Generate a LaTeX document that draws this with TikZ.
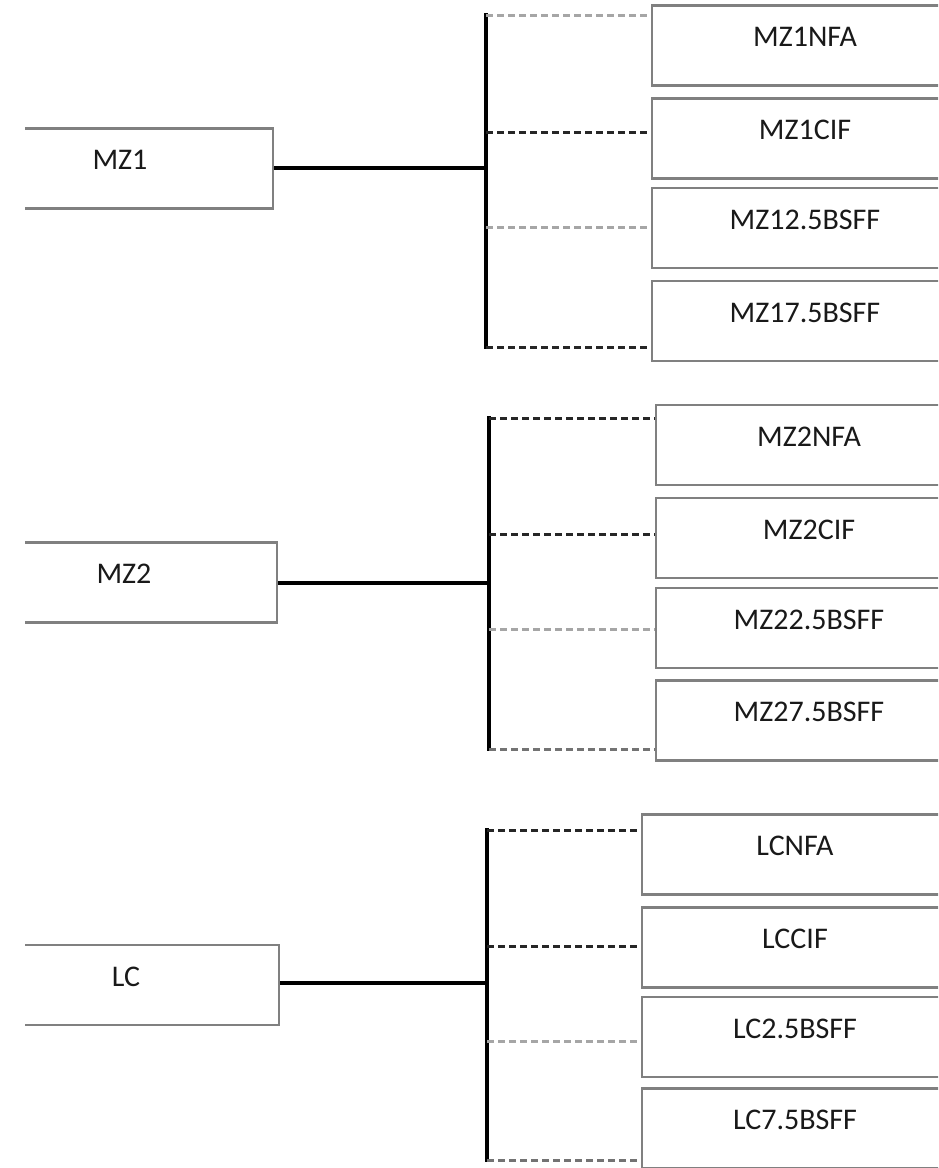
\documentclass[tikz,border=0pt]{standalone}
\usepackage{fontspec}
\setmainfont{Carlito}
\begin{document}
\begin{tikzpicture}[
  x=1pt, y=-1pt,
  box/.style={rectangle, draw=black!50, line width=2.4pt, minimum width=306pt, minimum height=80pt, text height=20pt, text depth=18pt, font=\fontsize{30}{32}\selectfont, text=black!90},
  trunk/.style={line width=4.5pt, black},
  bar/.style={line width=3.5pt, black, line cap=rect},
  dashdk/.style={line width=3pt, black!85, dash pattern=on 7pt off 4pt},
  dashmd/.style={line width=3pt, black!55, dash pattern=on 7pt off 4pt},
  dashlt/.style={line width=3pt, black!35, dash pattern=on 7pt off 4pt},
]
  \useasboundingbox (0,0) rectangle (938,1168);
  \clip (25,0) rectangle (938,1168);

  % Parent boxes
  \node[box] (mz1) at (120, 168.5) {MZ1};
  \node[box] (mz2) at (124, 582.5) {MZ2};
  \node[box] (lc) at (126, 985) {LC};

  % Child boxes
  \node[box] (mz1nfa) at (805, 45.5) {MZ1NFA};
  \node[box] (mz1cif) at (805, 138.5) {MZ1CIF};
  \node[box] (mz1bs2) at (805, 228) {MZ12.5BSFF};
  \node[box] (mz1bs7) at (805, 321) {MZ17.5BSFF};
  \node[box] (mz2nfa) at (809, 445) {MZ2NFA};
  \node[box] (mz2cif) at (809, 538) {MZ2CIF};
  \node[box] (mz2bs2) at (809, 628) {MZ22.5BSFF};
  \node[box] (mz2bs7) at (809, 720.5) {MZ27.5BSFF};
  \node[box] (lcnfa) at (795, 854.5) {LCNFA};
  \node[box] (lccif) at (795, 947.5) {LCCIF};
  \node[box] (lcbs2) at (795, 1037) {LC2.5BSFF};
  \node[box] (lcbs7) at (795, 1128.5) {LC7.5BSFF};

  % Branch points on the bars
  \coordinate (k1a) at (486, 15);
  \coordinate (k1b) at (486, 132);
  \coordinate (k1c) at (486, 227);
  \coordinate (k1d) at (486, 347);
  \coordinate (k2a) at (489, 418);
  \coordinate (k2b) at (489, 534);
  \coordinate (k2c) at (489, 629);
  \coordinate (k2d) at (489, 749);
  \coordinate (k3a) at (487, 830);
  \coordinate (k3b) at (487, 946);
  \coordinate (k3c) at (487, 1041);
  \coordinate (k3d) at (487, 1160);

  % Trunks and bars
  \draw[trunk] (mz1.east |- 0,168) -- (k1a |- 0,168);
  \draw[trunk] (mz2.east |- 0,583) -- (k2a |- 0,583);
  \draw[trunk] (lc.east |- 0,983) -- (k3a |- 0,983);
  \draw[bar] (k1a) -- (k1d);
  \draw[bar] (k2a) -- (k2d);
  \draw[bar] (k3a) -- (k3d);

  % Dashed branches to the child boxes
  \draw[dashlt] (k1a) -- (mz1nfa.west |- k1a);
  \draw[dashdk] (k1b) -- (mz1cif.west |- k1b);
  \draw[dashlt] (k1c) -- (mz1bs2.west |- k1c);
  \draw[dashdk] (k1d) -- (mz1bs7.west |- k1d);
  \draw[dashdk] (k2a) -- (mz2nfa.west |- k2a);
  \draw[dashdk] (k2b) -- (mz2cif.west |- k2b);
  \draw[dashlt] (k2c) -- (mz2bs2.west |- k2c);
  \draw[dashmd] (k2d) -- (mz2bs7.west |- k2d);
  \draw[dashdk] (k3a) -- (lcnfa.west |- k3a);
  \draw[dashdk] (k3b) -- (lccif.west |- k3b);
  \draw[dashlt] (k3c) -- (lcbs2.west |- k3c);
  \draw[dashmd] (k3d) -- (lcbs7.west |- k3d);
\end{tikzpicture}
\end{document}
